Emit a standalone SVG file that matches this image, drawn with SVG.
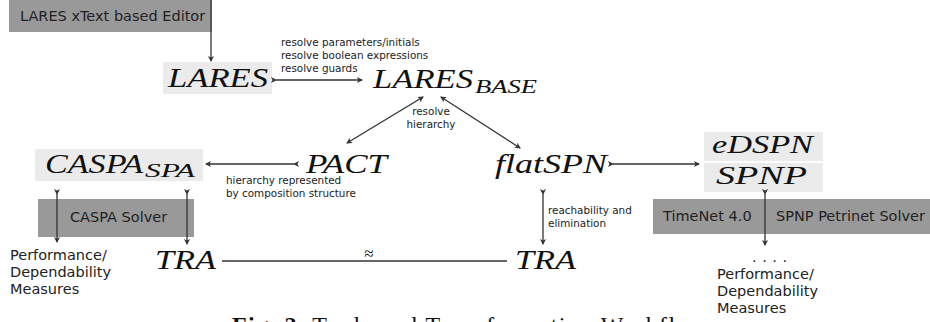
<svg xmlns="http://www.w3.org/2000/svg" width="930" height="322" viewBox="0 0 930 322">
<style>
  .dark { fill: #999999; }
  .light { fill: #ebebeb; }
  .math { font-family: "Liberation Serif", "DejaVu Serif", serif; font-style: italic; fill: #111; }
  .big { font-size: 28px; }
  .sub { font-size: 18px; }
  .sans { font-family: "DejaVu Sans", "Liberation Sans", sans-serif; fill: #222; font-size: 14.5px; }
  .small { font-family: "DejaVu Sans", "Liberation Sans", sans-serif; fill: #222; font-size: 10.4px; }
  .conn { stroke: #333; stroke-width: 1.3; fill: none; }
  .cap { font-family: "Liberation Serif", "DejaVu Serif", serif; font-size: 24px; fill: #111; }
</style>
<defs>
  <marker id="ah" viewBox="-6 -4 8 8" markerWidth="8" markerHeight="8" refX="0" refY="0" orient="auto" markerUnits="userSpaceOnUse">
    <path d="M1,0 L-5,-3 L-3.5,0 L-5,3 Z" fill="#333"/>
  </marker>
  <marker id="ahs" viewBox="-2 -4 8 8" markerWidth="8" markerHeight="8" refX="0" refY="0" orient="auto" markerUnits="userSpaceOnUse">
    <path d="M-1,0 L5,-3 L3.5,0 L5,3 Z" fill="#333"/>
  </marker>
</defs>
<rect width="930" height="322" fill="#ffffff"/>

<g id="editor">
  <rect class="dark" x="9" y="-1" width="203" height="33"/>
  <text class="sans" x="20" y="21">LARES xText based Editor</text>
</g>
<g id="lares">
  <rect class="light" x="163" y="62" width="109" height="32"/>
  <text class="math big" x="168" y="87" textLength="100" lengthAdjust="spacingAndGlyphs">LARES</text>
</g>
<g id="lares_base">
  <text class="math big" x="373" y="88" textLength="100" lengthAdjust="spacingAndGlyphs">LARES</text>
  <text class="math sub" x="475" y="93" textLength="62" lengthAdjust="spacingAndGlyphs">BASE</text>
</g>
<g id="caspa_spa">
  <rect class="light" x="35" y="149" width="168" height="32"/>
  <text class="math big" x="45" y="173" textLength="98" lengthAdjust="spacingAndGlyphs">CASPA</text>
  <text class="math sub" x="145" y="177" textLength="50" lengthAdjust="spacingAndGlyphs">SPA</text>
</g>
<g id="pact">
  <text class="math big" x="306" y="173" textLength="81" lengthAdjust="spacingAndGlyphs">PACT</text>
</g>
<g id="flatspn">
  <text class="math big" x="495" y="173" textLength="112" lengthAdjust="spacingAndGlyphs">flatSPN</text>
</g>
<g id="edspn">
  <rect class="light" x="704" y="132" width="119" height="29"/>
  <text class="math" font-size="26" x="712" y="153" textLength="101" lengthAdjust="spacingAndGlyphs">eDSPN</text>
</g>
<g id="spnp">
  <rect class="light" x="704" y="163" width="119" height="29"/>
  <text class="math" font-size="26" x="716" y="184" textLength="91" lengthAdjust="spacingAndGlyphs">SPNP</text>
</g>
<g id="caspa_solver">
  <rect class="dark" x="38" y="199" width="156" height="38"/>
  <text class="sans" x="70" y="222">CASPA Solver</text>
</g>
<g id="timenet">
  <rect class="dark" x="653" y="199" width="277" height="35"/>
  <text class="sans" x="663" y="221">TimeNet 4.0</text>
  <text class="sans" x="776" y="221">SPNP Petrinet Solver</text>
</g>
<g id="tra_left">
  <text class="math big" x="155" y="269" textLength="61" lengthAdjust="spacingAndGlyphs">TRA</text>
</g>
<g id="tra_right">
  <text class="math big" x="515" y="269" textLength="61" lengthAdjust="spacingAndGlyphs">TRA</text>
</g>
<g id="measures_left">
  <text class="sans" x="10" y="260">Performance/</text>
  <text class="sans" x="10" y="277">Dependability</text>
  <text class="sans" x="10" y="294">Measures</text>
</g>
<g id="measures_right">
  <text class="sans" x="752" y="262" font-size="16" textLength="35" lengthAdjust="spacing">....</text>
  <text class="sans" x="717" y="279">Performance/</text>
  <text class="sans" x="717" y="296">Dependability</text>
  <text class="sans" x="717" y="313">Measures</text>
</g>

<g id="connectors">
  <path class="conn" d="M211,0 V61" marker-end="url(#ah)"/>
  <path class="conn" d="M276,80 H362" marker-start="url(#ah)" marker-end="url(#ah)"/>
  <path class="conn" d="M423,97 L347,143" marker-start="url(#ahs)" marker-end="url(#ah)"/>
  <path class="conn" d="M441,97 L520,148" marker-start="url(#ahs)" marker-end="url(#ah)"/>
  <path class="conn" d="M294,164 H206" marker-start="url(#ah)" marker-end="url(#ah)"/>
  <path class="conn" d="M57,194 V242" marker-start="url(#ah)" marker-end="url(#ah)"/>
  <path class="conn" d="M187,194 V244" marker-start="url(#ah)" marker-end="url(#ah)"/>
  <path class="conn" d="M613,164 H699" marker-start="url(#ah)" marker-end="url(#ah)"/>
  <path class="conn" d="M543,194 V244" marker-start="url(#ah)" marker-end="url(#ah)"/>
  <path class="conn" d="M765,194 V245" marker-start="url(#ah)" marker-end="url(#ah)"/>
  <path class="conn" d="M222,261 H507" stroke="#555"/>
  <text class="math" font-size="17" font-style="normal" x="364" y="259">≈</text>
  <text class="small" x="281" y="46">resolve parameters/initials</text>
  <text class="small" x="281" y="59">resolve boolean expressions</text>
  <text class="small" x="281" y="72">resolve guards</text>
  <text class="small" x="431" y="115" text-anchor="middle">resolve</text>
  <text class="small" x="431" y="128" text-anchor="middle">hierarchy</text>
  <text class="small" x="226" y="184">hierarchy represented</text>
  <text class="small" x="226" y="197">by composition structure</text>
  <text class="small" x="548" y="214">reachability and</text>
  <text class="small" x="548" y="227">elimination</text>
</g>

<text class="cap" x="232" y="333" textLength="486" lengthAdjust="spacing"><tspan font-weight="bold">Fig. 2.</tspan> Tools and Transformation Workflows</text>
</svg>
